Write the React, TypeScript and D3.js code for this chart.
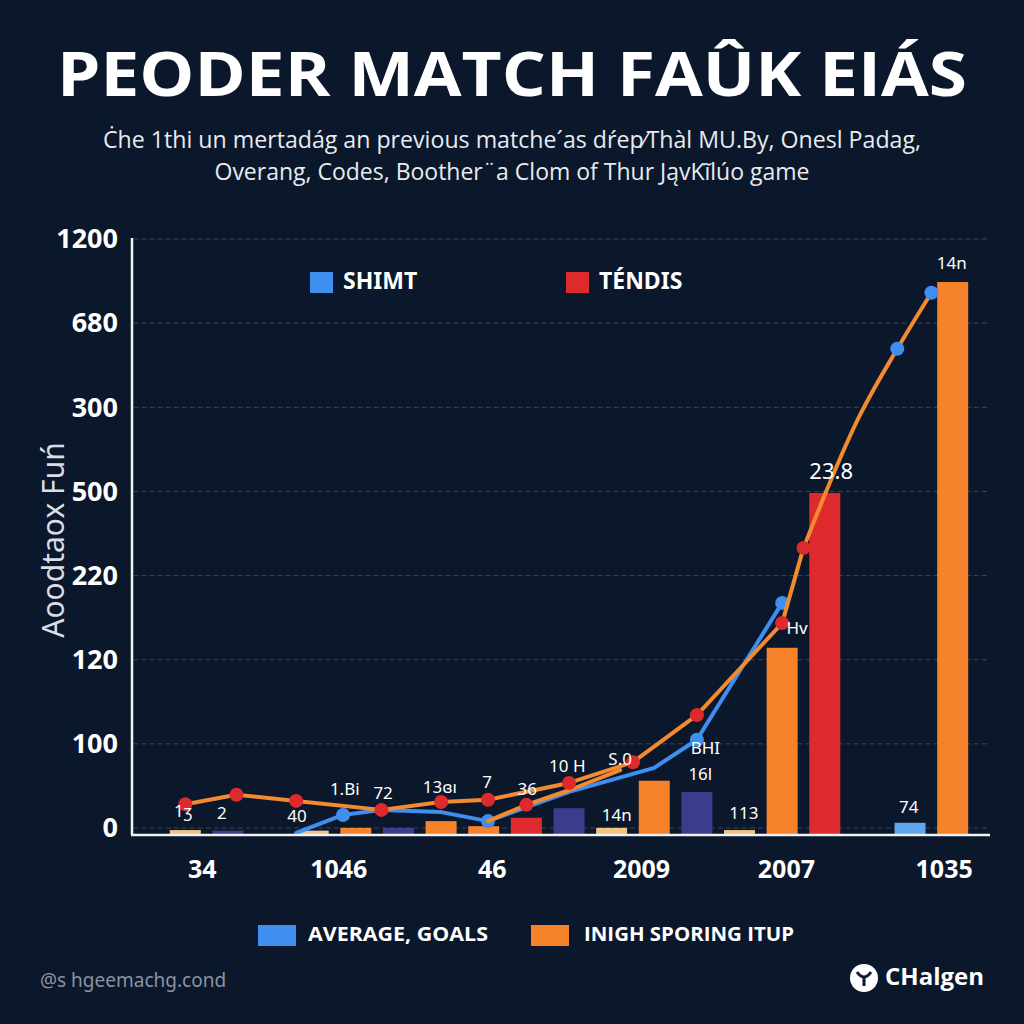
import React from 'react';
import * as d3 from 'd3';

// bars sit on numbered slots along the x axis
const barSlots = [0, 1, 3, 4, 5, 6, 7, 8, 9, 10, 11, 12, 13, 14, 15, 17, 18];
const barValues = [7, 6, 6, 11, 11, 23, 14, 29, 46, 11, 95, 75, 7, 332, 608, 20, 984];
const barKinds = ['tan', 'purple', 'tan', 'orange', 'purple', 'orange', 'orange', 'red', 'purple', 'tan', 'orange', 'purple', 'tan', 'orange', 'red', 'lightblue', 'orange'];

const xTickLabels = ['34', '1046', '46', '2009', '2007', '1035'];
const xTickSlots = [0.4, 3.6, 7.2, 10.7, 14.1, 17.8];

const yTickLabels = ['0', '100', '120', '220', '500', '300', '680', '1200'];

// orange line, straight part with red markers
const orangeSlots = [0, 1.2, 2.6, 4.6, 6, 7.1, 9, 10.5, 12, 14, 14.5];
const orangeValues = [53, 70, 59, 43, 57, 61, 91, 128, 212, 376, 510];
const orangeMarks = ['red', 'red', 'red', 'red', 'red', 'red', 'red', 'red', 'red', 'red', 'red'];

// orange line, curved top part with blue markers
const orangeTopSlots = [14.5, 15.8, 16.7, 17.5];
const orangeTopValues = [510, 743, 865, 965];
const orangeTopMarks = ['none', 'none', 'blue', 'blue'];

const orange2Slots = [7.1, 8, 9, 10.2];
const orange2Values = [23, 52, 78, 114];
const orange2Marks = ['none', 'red', 'none', 'none'];

const blueSlots = [2.6, 3.7, 4.6, 6, 7.1, 9, 11, 12, 14];
const blueValues = [2, 34, 43, 39, 23, 75, 118, 168, 412];
const blueMarks = ['none', 'blue', 'none', 'none', 'blue', 'none', 'none', 'blue', 'blue'];

const noteTexts = ['1ʒ', '2', '40', '1.Bi', '72', '13ɞı', '7', '36', '10 H', 'S.0', 'BHI', '16l', '14n', '113', 'Hv', '23.8', '14n', '74'];
const noteSlots = [-0.05, 0.86, 2.62, 3.74, 4.64, 5.97, 7.08, 8.02, 8.96, 10.2, 12.2, 12.08, 10.12, 13.1, 14.35, 15.15, 17.98, 16.97];
const noteValues = [39, 34, 30, 78, 70, 82, 91, 77, 119, 132, 150, 105, 32, 34, 364, 644, 1016, 45];

const colors: Record<string, string> = {
  tan: '#f2c585',
  purple: '#3b3d8c',
  orange: '#f6822b',
  red: '#df2a2d',
  lightblue: '#5ea6ee',
  blue: '#3f8ff0',
};

const W = 1024;
const H = 1024;
const bg = '#0b172a';

const x = d3.scaleLinear().domain([-0.5, 18.5]).range([164, 974]);
const y = d3.scaleLinear().domain([0, 1050]).range([834, 245]);
const barW = 31;

const straight = d3
  .line<[number, number]>()
  .x((d) => x(d[0]))
  .y((d) => y(d[1]));

const curved = d3
  .line<[number, number]>()
  .x((d) => x(d[0]))
  .y((d) => y(d[1]))
  .curve(d3.curveMonotoneX);

const zip = (a: number[], b: number[]) => a.map((v, i) => [v, b[i]] as [number, number]);

const Line: React.FC<{ slots: number[]; values: number[]; marks: string[]; stroke: string; smooth?: boolean }> = ({ slots, values, marks, stroke, smooth }) => (
  <g>
    <path d={(smooth ? curved : straight)(zip(slots, values)) || ''} fill="none" stroke={stroke} strokeWidth={4} strokeLinejoin="round" strokeLinecap="round" />
    {slots.map((s, i) =>
      marks[i] === 'none' ? null : <circle key={i} cx={x(s)} cy={y(values[i])} r={7} fill={colors[marks[i]]} />
    )}
  </g>
);

const App: React.FC = () => {
  const yTicks = yTickLabels.map((_, i) => i * 150);
  return (
    <svg width={W} height={H} style={{ position: 'absolute', left: 0, top: 0, display: 'block' }}>
      <rect width={W} height={H} fill={bg} />

      <text x={512} y={96} textAnchor="middle" fill="#ffffff" fontFamily="'Open Sans', 'Noto Sans', sans-serif" fontWeight={700} fontSize={60} textLength={910} lengthAdjust="spacingAndGlyphs">
        PEODER MATCH FAÛK EIÁS
      </text>
      <g fill="#e8ebf0" fontFamily="'Open Sans', 'Noto Sans', sans-serif" fontSize={24}>
        <text x={512} y={148} textAnchor="middle" textLength={818} lengthAdjust="spacingAndGlyphs">
          Ċhe 1thi un mertadág an previous matche´as dŕep⁄Thàl MU.By, Onesl Padag,
        </text>
        <text x={512} y={180} textAnchor="middle" textLength={595} lengthAdjust="spacingAndGlyphs">
          Overang, Codes, Boother¨a Clom of Thur JąvKĩlúo game
        </text>
      </g>

      {/* grid */}
      {yTicks.map((t) => (
        <line key={t} x1={134} x2={990} y1={y(t) - 6} y2={y(t) - 6} stroke="#3a4658" strokeWidth={1} strokeDasharray="5 3" />
      ))}

      {/* y tick labels */}
      {yTicks.map((t, i) => (
        <text key={t} x={118} y={y(t) - 4} textAnchor="end" dominantBaseline="middle" fill="#ffffff" fontFamily="'Open Sans', 'Noto Sans', sans-serif" fontWeight={700} fontSize={27}>
          {yTickLabels[i]}
        </text>
      ))}

      <text transform="translate(56,540) rotate(-90)" textAnchor="middle" dominantBaseline="middle" fill="#d9dde4" fontFamily="'Noto Sans', sans-serif" fontSize={30}>
        Aoodtaox Fuń
      </text>

      {/* bars */}
      {barSlots.map((s, i) => (
        <rect key={i} x={x(s) - barW / 2} y={y(barValues[i])} width={barW} height={y(0) - y(barValues[i])} fill={colors[barKinds[i]]} />
      ))}

      <Line slots={blueSlots} values={blueValues} marks={blueMarks} stroke={colors.blue} />
      <Line slots={orange2Slots} values={orange2Values} marks={orange2Marks} stroke="#f28a32" />
      <Line slots={orangeTopSlots} values={orangeTopValues} marks={orangeTopMarks} stroke="#f28a32" smooth />
      <Line slots={orangeSlots} values={orangeValues} marks={orangeMarks} stroke="#f28a32" />

      {/* axes */}
      <line x1={132} x2={132} y1={238} y2={835} stroke="#f0f2f5" strokeWidth={2.5} />
      <line x1={131} x2={990} y1={835} y2={835} stroke="#f0f2f5" strokeWidth={2.5} />

      {/* value notes */}
      {noteTexts.map((t, i) => (
        <text key={i} x={x(noteSlots[i])} y={y(noteValues[i])} textAnchor="middle" dominantBaseline="middle" fill="#ffffff" fontFamily="'Noto Sans', sans-serif" fontSize={t === '23.8' ? 22 : 17}>
          {t}
        </text>
      ))}

      {/* x tick labels */}
      {xTickLabels.map((t, i) => (
        <text key={i} x={x(xTickSlots[i])} y={871} textAnchor="middle" dominantBaseline="middle" fill="#ffffff" fontFamily="'Open Sans', 'Noto Sans', sans-serif" fontWeight={700} fontSize={25}>
          {t}
        </text>
      ))}

      {/* top legend */}
      <g fontFamily="'Noto Sans', sans-serif" fontWeight={700} fontSize={23} fill="#ffffff">
        <rect x={310} y={272} width={23} height={21} fill={colors.blue} />
        <text x={343} y={283} dominantBaseline="middle">SHIMT</text>
        <rect x={566} y={272} width={23} height={21} fill={colors.red} />
        <text x={599} y={283} dominantBaseline="middle">TÉNDIS</text>
      </g>

      {/* bottom legend */}
      <g fontFamily="'Open Sans', 'Noto Sans', sans-serif" fontWeight={700} fontSize={20} fill="#ffffff">
        <rect x={258} y={925} width={38} height={21} fill={colors.blue} />
        <text x={308} y={936} dominantBaseline="middle" textLength={180} lengthAdjust="spacingAndGlyphs">AVERAGE, GOALS</text>
        <rect x={531} y={925} width={38} height={21} fill={colors.orange} />
        <text x={584} y={936} dominantBaseline="middle" textLength={210} lengthAdjust="spacingAndGlyphs">INIGH SPORING ITUP</text>
      </g>

      {/* footer */}
      <text x={40} y={982} dominantBaseline="middle" fill="#8a93a3" fontFamily="'Noto Sans', sans-serif" fontSize={19}>
        @s hgeemachg.cond
      </text>
      <circle cx={864} cy={978} r={14} fill="#ffffff" />
      <path d="M857,972 q7,10 14,0 M864,978 v8" stroke={bg} strokeWidth={3} fill="none" />
      <text x={885} y={979} dominantBaseline="middle" fill="#ffffff" fontFamily="'Open Sans', 'Noto Sans', sans-serif" fontWeight={700} fontSize={24}>
        CHalgen
      </text>
    </svg>
  );
};

export default App;
